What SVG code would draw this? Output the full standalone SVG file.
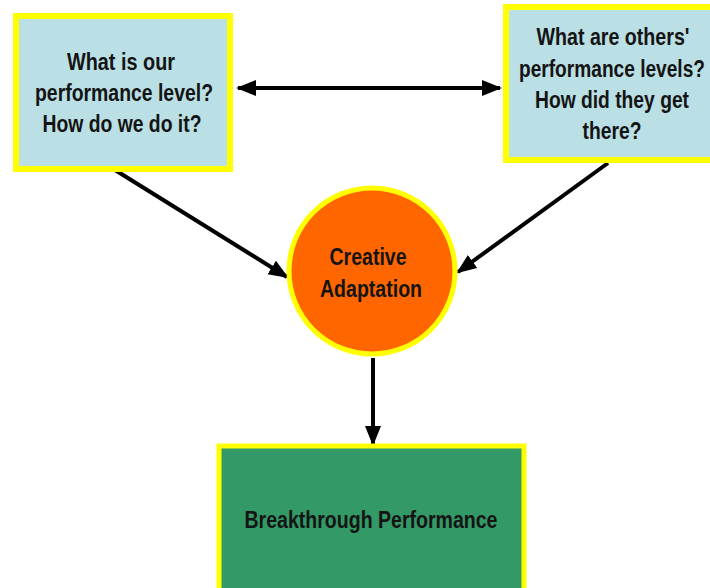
<svg xmlns="http://www.w3.org/2000/svg" width="710" height="588" viewBox="0 0 710 588">
<style>
.box{fill:#badfe4;stroke:#ffff00;stroke-width:6}
.t{font-family:"Liberation Sans",Arial,sans-serif;font-weight:bold;font-size:23px;fill:#141414;text-anchor:middle}
.c{stroke:#000;stroke-width:4;fill:none}
</style>
<defs>
<marker id="ah" markerUnits="userSpaceOnUse" markerWidth="20" markerHeight="18" viewBox="0 0 20 18" refX="18" refY="9" orient="auto-start-reverse">
<path d="M0,1 L20,9 L0,17 z" fill="#000"/>
</marker>
</defs>
<rect width="710" height="588" fill="#fff"/>
<g id="connectors">
<line class="c" x1="238" y1="88" x2="500" y2="88" marker-start="url(#ah)" marker-end="url(#ah)"/>
<line class="c" x1="115" y1="170" x2="287" y2="277" marker-end="url(#ah)"/>
<line class="c" x1="608" y1="163" x2="458" y2="272" marker-end="url(#ah)"/>
<line class="c" x1="373" y1="358" x2="373" y2="444" marker-end="url(#ah)"/>
</g>
<g id="ours">
<rect class="box" x="16" y="16" width="214" height="153"/>
<text class="t"><tspan x="121" y="70" textLength="108" lengthAdjust="spacingAndGlyphs">What is our</tspan><tspan x="124" y="101" textLength="178" lengthAdjust="spacingAndGlyphs">performance level?</tspan><tspan x="122" y="132" textLength="159" lengthAdjust="spacingAndGlyphs">How do we do it?</tspan></text>
</g>
<g id="others">
<rect class="box" x="506" y="7" width="210" height="153"/>
<text class="t"><tspan x="613" y="45" textLength="153" lengthAdjust="spacingAndGlyphs">What are others'</tspan><tspan x="612" y="77" textLength="186" lengthAdjust="spacingAndGlyphs">performance levels?</tspan><tspan x="612" y="108" textLength="154" lengthAdjust="spacingAndGlyphs">How did they get</tspan><tspan x="612" y="139" textLength="59" lengthAdjust="spacingAndGlyphs">there?</tspan></text>
</g>
<g id="creative">
<circle cx="372" cy="271" r="83" fill="#ff6600" stroke="#ffff00" stroke-width="5"/>
<text class="t"><tspan x="368" y="265" textLength="77" lengthAdjust="spacingAndGlyphs">Creative</tspan><tspan x="371" y="297" textLength="102" lengthAdjust="spacingAndGlyphs">Adaptation</tspan></text>
</g>
<g id="breakthrough">
<rect x="219" y="446" width="305" height="150" fill="#339966" stroke="#ffff00" stroke-width="5"/>
<text class="t" x="371" y="528" textLength="253" lengthAdjust="spacingAndGlyphs">Breakthrough Performance</text>
</g>
</svg>
